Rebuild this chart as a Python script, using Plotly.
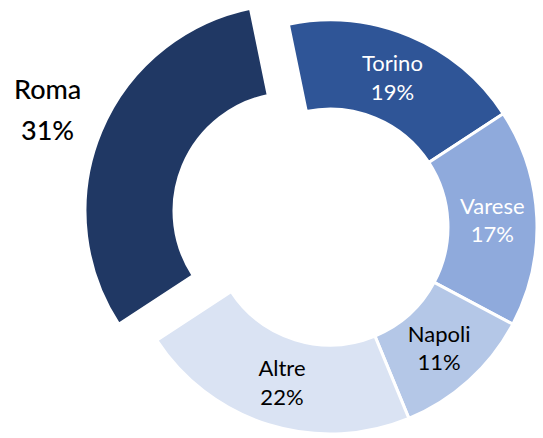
import plotly.graph_objects as go

labels = ["Torino", "Varese", "Napoli", "Altre", "Roma"]
values = [19, 17, 11, 22, 31]
colors = ["#2F5597", "#8FAADC", "#B4C7E7", "#DAE3F3", "#203864"]
text_colors = ["white", "white", "black", "black", "black"]
pulled = "Roma"

W, H = 543, 438
FONT = "Lato"

is_p = [l == pulled for l in labels]
c1 = ["rgba(0,0,0,0)" if p else c for p, c in zip(is_p, colors)]
lw1 = [0 if p else 3 for p in is_p]
tp1 = ["none" if p else "inside" for p in is_p]

c2 = [c if p else "rgba(0,0,0,0)" for p, c in zip(is_p, colors)]
lw2 = [3 if p else 0 for p in is_p]


def dom(cx, cy, R):
    return dict(x=[(cx - R) / W, (cx + R) / W], y=[1 - (cy + R) / H, 1 - (cy - R) / H])


R = 207
fig = go.Figure()
fig.add_trace(go.Pie(
    labels=labels, values=values, sort=False, direction="clockwise", rotation=-11.6,
    hole=0.57, marker=dict(colors=c1, line=dict(color="white", width=lw1)),
    textinfo="label+percent", textposition=tp1, insidetextorientation="horizontal",
    textfont=dict(family=FONT, size=22, color=text_colors),
    domain=dom(330, 227, R), showlegend=False, hoverinfo="label+percent",
))
fig.add_trace(go.Pie(
    labels=labels, values=values, sort=False, direction="clockwise", rotation=-11.6,
    hole=0.57, marker=dict(colors=c2, line=dict(color="white", width=lw2)),
    textinfo="none", domain=dom(292, 211, R), showlegend=False, hoverinfo="skip",
))

total = sum(values)
pi = labels.index(pulled)
for txt, yy in [(labels[pi], 88), (f"{round(100 * values[pi] / total)}%", 130)]:
    fig.add_annotation(
        text=txt, x=47 / W, y=1 - yy / H, xref="paper", yref="paper", showarrow=False,
        xanchor="center", yanchor="middle", align="center",
        font=dict(family=FONT, size=27, color="black", weight=500),
    )
fig.update_layout(width=W, height=H, margin=dict(l=0, r=0, t=0, b=0),
                  paper_bgcolor="white", plot_bgcolor="white", showlegend=False,
                  uniformtext=dict(mode="show", minsize=22))
fig.write_html("out.html", config={"displayModeBar": False},
               post_script="document.body.style.margin='0';")
